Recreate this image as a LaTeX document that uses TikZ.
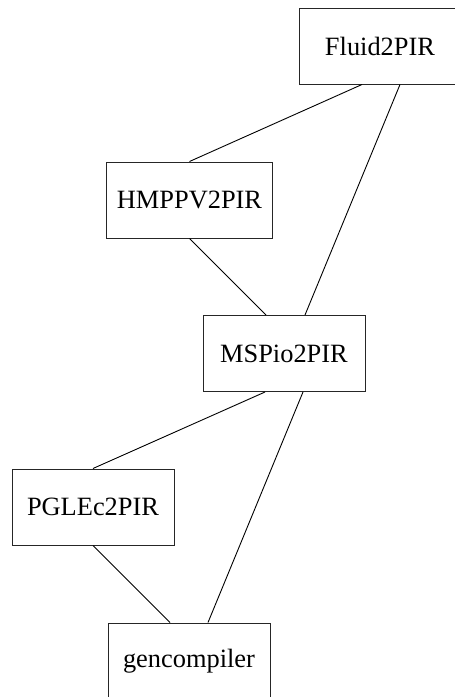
\documentclass[tikz,border=0pt]{standalone}
\usepackage{fontspec}
\setmainfont{Liberation Serif}
\begin{document}
\begin{tikzpicture}[x=0.5pt,y=-0.5pt,
  box/.style={draw=black!85, line width=0.5pt, rectangle, minimum width=81pt,
    minimum height=38pt, inner xsep=5pt, font=\fontsize{13.2pt}{15pt}\selectfont},
  link/.style={draw=black, line width=0.45pt}]
\useasboundingbox (0,0) rectangle (455,697);

% package nodes
\node[box] (fluid) at (380,46)    {Fluid2PIR};
\node[box] (hmppv) at (189.5,200) {HMPPV2PIR};
\node[box] (mspio) at (284,353.5) {MSPio2PIR};
\node[box] (pglec) at (93,507)    {PGLEc2PIR};
\node[box] (gen)   at (189,661)   {gencompiler};

% dependency links
\draw[link] ([xshift=-9pt]fluid.south) -- (hmppv.north);
\draw[link] ([xshift=10pt]fluid.south) -- ([xshift=10.5pt]mspio.north);
\draw[link] (hmppv.south) -- ([xshift=-9pt]mspio.north);
\draw[link] ([xshift=-9.5pt]mspio.south) -- (pglec.north);
\draw[link] ([xshift=9.5pt]mspio.south) -- ([xshift=9.5pt]gen.north);
\draw[link] (pglec.south) -- ([xshift=-9.5pt]gen.north);
\end{tikzpicture}
\end{document}
